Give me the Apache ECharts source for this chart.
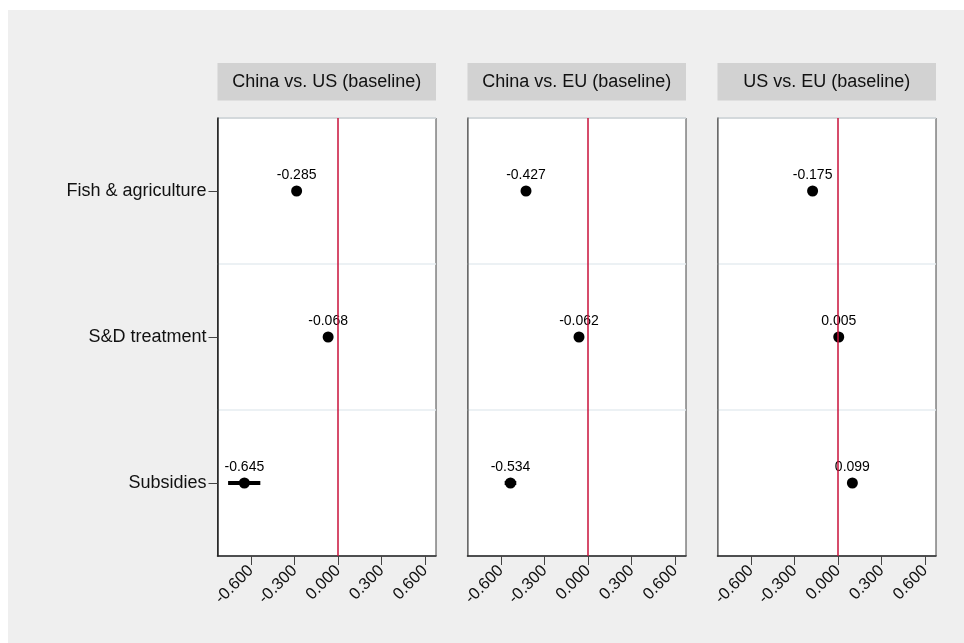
<!DOCTYPE html>
<html>
<head>
<meta charset="utf-8">
<script src="https://cdn.jsdelivr.net/npm/echarts@6/dist/echarts.min.js"></script>
<style>
  html, body { margin: 0; padding: 0; background: #fff; }
  #chart { width: 964px; height: 643px; }
</style>
</head>
<body>
<div id="chart"></div>
<script>
// Coefficient estimates (with confidence intervals) by issue area, one panel per comparison
const categories = ['Fish & agriculture', 'S&D treatment', 'Subsidies'];
const panelTitles = ['China vs. US (baseline)', 'China vs. EU (baseline)', 'US vs. EU (baseline)'];

const chinaUS = [-0.285, -0.068, -0.645];
const chinaUSLow = [-0.305, -0.088, -0.757];
const chinaUSHigh = [-0.265, -0.048, -0.535];

const chinaEU = [-0.427, -0.062, -0.534];
const chinaEULow = [-0.447, -0.082, -0.574];
const chinaEUHigh = [-0.407, -0.042, -0.494];

const usEU = [-0.175, 0.005, 0.099];
const usEULow = [-0.195, -0.015, 0.079];
const usEUHigh = [-0.155, 0.025, 0.119];

const xTicks = [-0.6, -0.3, 0, 0.3, 0.6];
const xMin = -0.83;
const xMax = 0.675;

const panels = [
  { title: panelTitles[0], est: chinaUS, low: chinaUSLow, high: chinaUSHigh },
  { title: panelTitles[1], est: chinaEU, low: chinaEULow, high: chinaEUHigh },
  { title: panelTitles[2], est: usEU, low: usEULow, high: usEUHigh }
];

// layout
const FONT = '"Liberation Sans", Arial, Helvetica, sans-serif';
const plotTop = 118, plotHeight = 438;
const panelLefts = [217.5, 467.5, 717.5];
const panelWidth = 218.5;
const stripTop = 63, stripHeight = 37.5;

const grids = [], xAxes = [], yAxes = [], series = [], graphics = [];

graphics.push({
  type: 'rect', left: 8, top: 10, z: -100,
  shape: { width: 956, height: 633 },
  style: { fill: '#efefef' }
});

panels.forEach((p, i) => {
  grids.push({
    left: panelLefts[i], top: plotTop, width: panelWidth, height: plotHeight,
    show: true, backgroundColor: '#ffffff', borderColor: '#444', borderWidth: 1
  });
  xAxes.push({
    type: 'value', gridIndex: i, min: xMin, max: xMax,
    axisLine: { show: true, onZero: false, lineStyle: { color: '#222', width: 1.5 } },
    axisTick: { show: true, length: 9, customValues: xTicks, lineStyle: { color: '#444', width: 1 } },
    axisLabel: {
      show: true, customValues: xTicks, rotate: 45, margin: 12,
      fontFamily: FONT, fontSize: 16.5, color: '#111',
      formatter: v => v.toFixed(3)
    },
    splitLine: { show: false }
  });
  yAxes.push({
    type: 'category', gridIndex: i, data: categories, inverse: true,
    axisLine: { show: true, onZero: false, lineStyle: { color: i === 0 ? '#222' : '#777', width: 1.5 } },
    axisTick: { show: i === 0, alignWithLabel: true, length: 9, lineStyle: { color: '#444' } },
    axisLabel: { show: i === 0, fontFamily: FONT, fontSize: 18, color: '#111', margin: 11 },
    splitLine: { show: true, lineStyle: { color: '#e6edf0', width: 1.5 } }
  });

  // confidence intervals
  series.push({
    type: 'custom', xAxisIndex: i, yAxisIndex: i, silent: true, z: 3,
    data: categories.map((c, k) => [p.low[k], p.high[k], k]),
    renderItem: (params, api) => {
      const a = api.coord([api.value(0), api.value(2)]);
      const b = api.coord([api.value(1), api.value(2)]);
      return {
        type: 'line',
        shape: { x1: a[0], y1: a[1], x2: b[0], y2: b[1] },
        style: { stroke: '#000', lineWidth: 4 }
      };
    },
    encode: { x: [0, 1], y: 2 }
  });

  // point estimates with value labels, plus the zero reference line
  series.push({
    type: 'scatter', xAxisIndex: i, yAxisIndex: i, z: 4,
    symbol: 'circle', symbolSize: 11,
    itemStyle: { color: '#000', borderWidth: 0, opacity: 1 },
    data: p.est.map((v, k) => [v, k]),
    label: {
      show: true, position: 'top', distance: 3,
      fontFamily: FONT, fontSize: 14, color: '#000',
      formatter: d => d.value[0].toFixed(3)
    },
    markLine: {
      silent: true, symbol: ['none', 'none'], label: { show: false },
      lineStyle: { color: '#c8103a', width: 1.5, type: 'solid', opacity: 1 },
      emphasis: { disabled: true },
      data: [{ xAxis: 0 }]
    }
  });

  // panel header strip
  graphics.push({
    type: 'rect', left: panelLefts[i], top: stripTop, z: 1,
    shape: { width: panelWidth, height: stripHeight },
    style: { fill: '#d2d2d2' }
  });
  graphics.push({
    type: 'text', z: 2,
    x: panelLefts[i] + panelWidth / 2, y: stripTop + stripHeight / 2,
    style: {
      text: p.title, fill: '#111', font: '18px ' + FONT,
      align: 'center', verticalAlign: 'middle'
    }
  });
});

const chart = echarts.init(document.getElementById('chart'), null, { renderer: 'canvas' });
chart.setOption({
  backgroundColor: '#ffffff',
  animation: false,
  grid: grids,
  xAxis: xAxes,
  yAxis: yAxes,
  series: series,
  graphic: { elements: graphics }
});
</script>
</body>
</html>
